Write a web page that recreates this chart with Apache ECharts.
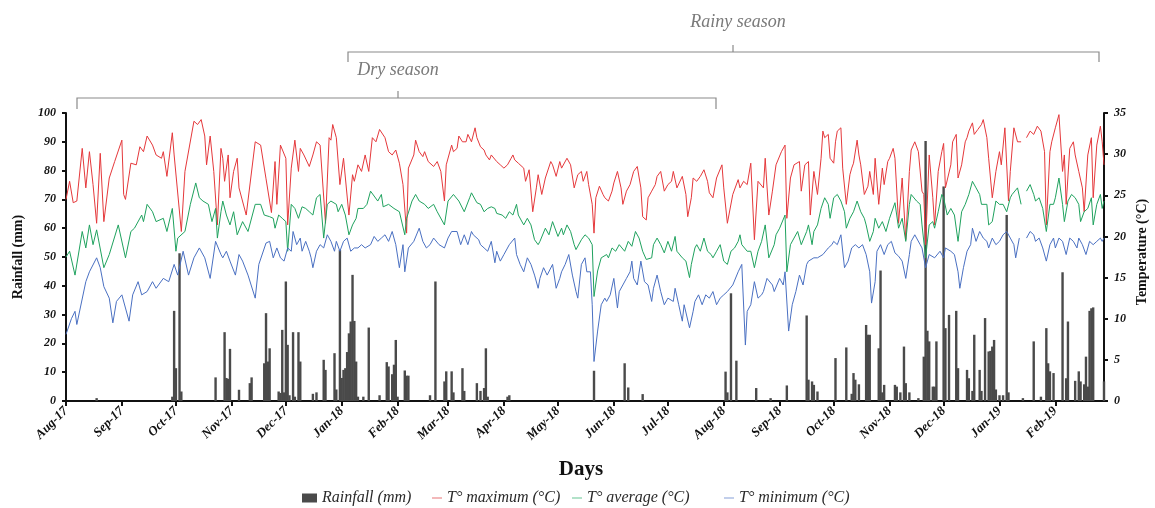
<!DOCTYPE html>
<html>
<head>
<meta charset="utf-8">
<script src="https://cdn.jsdelivr.net/npm/echarts@6/dist/echarts.min.js"></script>
<style>
  html, body { margin: 0; padding: 0; background: #fff; }
  #chart { width: 1155px; height: 508px; }
</style>
</head>
<body>
<div id="chart"></div>
<script>
// Daily record, 1 Aug 2017 – 28 Feb 2019. Values are [day index from 1 Aug 2017, value].
const FIRST_DAY = '2017-08-01';
const LAST_DAY = '2019-02-28';
const MONTH_NAMES = ['Jan','Feb','Mar','Apr','May','Jun','Jul','Aug','Sep','Oct','Nov','Dec'];

// Daily rainfall (mm)
const rainfall = [
  [17,1],[59,1.5],[60,31.3],[61,11.4],[63,51.3],[64,3.3],[83,8.2],[88,23.9],[89,8],[90,7.7],[91,18.1],
  [96,3.9],[102,6.2],[103,8.2],[110,13.1],[111,30.5],[112,13.7],[113,18.3],[118,3.3],[119,2.8],[120,24.7],
  [121,3],[122,41.5],[123,19.5],[124,2],[126,23.9],[127,1.5],[129,23.9],[130,13.7],[137,2.5],[139,3],
  [143,14.3],[144,10.8],[149,16.6],[150,4],[152,52.5],[153,8],[154,10.8],[155,11.4],[156,17],[157,23.5],
  [158,27.6],[159,43.8],[160,27.8],[161,13.7],[162,1.5],[165,1.5],[168,25.5],[174,2],[178,13.5],[179,12],
  [181,9.3],[182,12.6],[183,21.2],[184,1.5],[188,10.6],[189,8.8],[190,8.8],[202,2],[205,41.5],[210,6.8],
  [211,10.3],[214,10.3],[215,3],[220,11.4],[221,3.5],[228,6.2],[230,3.5],[232,4.5],[233,18.3],[234,1.5],
  [245,1.5],[246,2],[293,10.5],[310,13.1],[312,4.7],[320,2.4],[366,10.2],[367,3],[369,37.4],[372,14],
  [383,4.5],[391,1],[400,5.4],[411,29.7],[412,7.4],[414,6.8],[415,5.6],[417,3.3],[427,14.9],[433,18.6],
  [436,2.5],[437,9.7],[438,7.4],[440,5.8],[444,26.4],[445,23],[446,23],[451,18.3],[452,45.3],[453,3],
  [454,5.6],[460,5.6],[461,5],[463,3],[465,18.9],[466,6.2],[468,3],[473,1],[476,15.4],[477,90.3],
  [478,24.4],[479,20.7],[481,5],[482,5],[483,20.7],[487,74.5],[488,25.3],[490,29.9],[494,31.3],[495,11.4],
  [500,10.8],[501,7.9],[503,3.5],[504,23],[507,10.8],[508,3.5],[510,28.8],[512,17.2],[513,17.4],[514,18.9],
  [515,21.2],[516,4],[518,2],[520,2],[522,64.6],[523,3],[531,1],[537,20.7],[541,1.5],[544,25.3],[545,13.1],
  [546,10.3],[548,9.7],[553,44.7],[555,7.9],[556,27.6],[560,7],[562,10.3],[563,6.8],[565,5.8],[566,15.4],
  [567,5],[568,31.3],[569,32.2],[570,32.5],[576,6.8]
];

// Daily maximum temperature (°C)
const tMax = [
  [0,24.5],[2,26.7],[4,24.1],[6,24.3],[9,30.7],[11,25.9],[13,30.3],[15,26.3],[16,26.5],[17,21.6],[19,30.1],
  [21,21.8],[24,27.1],[27,29.1],[31,31.7],[32,25.1],[33,24.5],[36,28.9],[39,28.7],[41,30.9],[43,30.3],
  [45,32.2],[48,31.1],[50,29.9],[53,29.5],[54,30.3],[56,27.3],[59,32.6],[60,29.9],[64,20.6],[66,27.9],
  [71,34.0],[73,33.6],[75,34.2],[77,32.2],[78,28.7],[80,32.2],[82,27.9],[84,21.4],[86,30.7],[87,29.5],
  [88,26.7],[90,29.9],[91,24.7],[93,27.9],[95,29.5],[96,25.9],[100,22.6],[105,31.5],[108,31.1],[111,27.0],
  [114,22.9],[116,29.1],[117,23.9],[119,31.1],[122,29.5],[123,21.4],[125,28.3],[127,31.7],[129,27.9],
  [130,30.7],[132,29.9],[135,28.5],[137,29.9],[139,31.5],[141,31.1],[142,31.3],[144,21.6],[146,32.0],
  [147,31.7],[148,33.6],[150,32.0],[152,26.3],[154,29.5],[155,29.5],[157,22.6],[159,27.5],[160,26.7],
  [162,28.7],[164,27.9],[166,29.9],[168,27.9],[170,32.0],[172,31.5],[174,33.0],[177,32.0],[179,30.3],
  [181,29.9],[183,30.5],[185,28.9],[186,29.1],[187,26.3],[189,20.4],[190,28.3],[193,29.9],[194,31.7],
  [196,30.3],[198,29.7],[199,30.3],[201,29.1],[204,28.5],[206,29.1],[208,27.9],[210,24.3],[211,28.7],
  [214,31.1],[215,30.3],[217,30.7],[218,32.2],[220,31.5],[222,31.5],[223,32.4],[225,31.5],[227,33.2],
  [228,32.0],[230,30.9],[232,30.5],[233,29.9],[235,29.3],[236,29.9],[237,30.1],[239,29.1],[241,28.7],
  [243,28.3],[245,28.7],[247,29.5],[248,29.9],[249,29.3],[251,28.9],[254,28.3],[255,26.7],[257,28.1],
  [259,23.0],[261,25.9],[262,27.5],[264,25.1],[266,27.1],[269,29.1],[270,28.7],[272,27.3],[274,29.1],
  [275,28.3],[278,29.5],[280,28.7],[282,25.9],[284,27.5],[286,27.9],[287,26.7],[289,27.9],[290,26.3],
  [292,23.9],[293,20.4],[294,24.7],[296,26.1],[298,25.1],[299,24.7],[301,24.3],[303,25.5],[304,26.5],
  [306,27.9],[308,25.9],[309,23.9],[311,25.5],[313,26.3],[315,27.9],[317,28.5],[319,25.9],[320,22.4],
  [322,22.0],[323,24.7],[325,25.5],[327,26.3],[328,27.3],[330,27.9],[332,25.5],[334,26.3],[336,26.7],
  [337,27.9],[339,25.9],[342,27.3],[344,25.1],[345,22.4],[347,24.7],[348,27.1],[350,26.7],[352,27.3],
  [354,28.1],[356,26.7],[357,25.3],[359,24.7],[361,27.1],[362,27.3],[364,28.7],[365,25.9],[367,21.6],
  [370,25.1],[373,26.9],[374,25.9],[376,26.7],[378,26.3],[380,28.9],[382,19.6],[384,26.7],[387,25.9],
  [388,29.5],[390,22.6],[392,25.5],[394,28.7],[397,30.3],[399,31.1],[400,22.2],[402,27.1],[404,28.7],
  [407,29.1],[408,25.5],[410,28.7],[412,29.1],[413,22.6],[415,27.9],[417,25.1],[419,29.5],[420,32.8],
  [421,32.0],[423,32.4],[424,29.5],[426,28.9],[427,31.5],[428,32.8],[430,33.2],[431,28.3],[433,23.9],
  [435,27.5],[436,28.3],[437,28.9],[439,31.7],[440,29.9],[441,28.7],[443,25.1],[445,26.1],[446,27.9],
  [448,25.1],[449,29.5],[451,23.9],[453,28.3],[454,26.3],[456,29.1],[457,29.5],[459,30.7],[460,29.5],
  [462,21.6],[464,27.1],[466,19.6],[468,27.9],[469,30.5],[471,31.5],[473,30.3],[475,25.5],[476,25.1],
  [477,19.0],[479,29.9],[481,24.7],[482,21.4],[484,27.9],[486,30.3],[487,31.3],[488,25.9],[491,28.7],
  [492,31.5],[494,32.4],[495,27.1],[497,28.7],[499,31.5],[500,32.0],[501,32.8],[503,33.8],[504,32.4],
  [506,33.0],[508,33.6],[509,34.2],[511,32.0],[512,29.5],[514,24.7],[516,27.9],[518,30.3],[519,28.7],
  [521,33.2],[523,24.3],[524,27.9],[526,33.2],[528,31.5],[530,31.5],[531,null],[533,32.0],[535,32.8],
  [537,32.4],[539,33.4],[541,32.8],[543,30.3],[544,21.4],[546,30.3],[547,31.5],[549,33.2],[551,34.8],
  [553,27.9],[554,29.9],[555,23.9],[557,30.7],[559,31.5],[560,29.9],[562,27.9],[564,25.9],[565,23.0],
  [567,29.9],[569,32.0],[570,24.7],[572,31.1],[574,33.4],[575,31.5],[576,28.7]
];

// Daily mean temperature (°C)
const tAvg = [
  [0,17.5],[2,18.2],[5,15.3],[9,20.6],[11,18.6],[13,21.4],[15,19.0],[17,20.8],[21,16.2],[24,17.8],[29,21.4],
  [33,17.4],[36,20.6],[38,21.0],[42,22.6],[43,21.8],[45,23.9],[48,23.0],[50,21.8],[54,22.2],[56,20.6],
  [59,23.4],[61,18.2],[62,19.8],[66,20.6],[69,23.9],[72,26.5],[74,24.7],[76,24.3],[79,23.9],[81,21.8],
  [83,23.4],[84,19.8],[86,23.0],[87,24.3],[89,22.6],[91,21.4],[93,23.0],[95,20.2],[98,21.8],[101,20.6],
  [105,23.9],[108,23.9],[110,22.6],[113,22.4],[115,22.2],[116,21.0],[118,22.6],[120,22.2],[122,21.8],
  [123,18.2],[125,23.9],[127,23.4],[129,22.2],[131,23.6],[133,23.4],[135,23.0],[137,22.6],[139,24.7],
  [141,25.1],[143,19.8],[145,23.9],[147,24.3],[150,23.9],[151,23.0],[153,23.9],[155,22.6],[157,20.2],
  [159,21.4],[161,22.2],[162,23.4],[165,23.4],[167,23.9],[169,25.5],[170,25.5],[173,24.3],[175,25.1],
  [176,23.6],[179,23.9],[182,23.4],[185,23.0],[186,23.0],[188,20.2],[189,22.2],[192,24.3],[194,25.1],
  [196,24.3],[199,23.9],[201,23.4],[204,23.9],[206,23.0],[210,21.4],[212,24.3],[215,25.1],[218,24.3],
  [221,23.0],[224,24.7],[225,25.3],[228,24.1],[230,23.9],[232,23.0],[234,23.4],[236,23.6],[238,23.4],
  [239,22.8],[242,22.6],[244,22.2],[246,23.0],[248,22.6],[250,23.9],[251,22.6],[254,21.4],[256,22.2],
  [258,21.4],[260,19.6],[262,19.0],[263,19.4],[266,21.0],[268,20.2],[270,21.8],[273,20.0],[275,21.0],
  [276,20.2],[278,21.4],[280,20.6],[282,19.0],[283,18.4],[286,19.6],[288,20.2],[290,19.8],[292,19.0],
  [293,12.7],[295,15.8],[297,17.4],[300,17.8],[301,17.4],[303,18.6],[305,18.2],[307,19.0],[310,18.2],
  [312,19.4],[314,18.8],[316,20.6],[318,19.8],[320,18.2],[322,17.2],[325,17.4],[326,19.0],[328,19.8],
  [330,19.0],[332,18.0],[334,19.4],[336,18.2],[338,20.0],[339,18.2],[342,17.4],[344,17.0],[346,15.0],
  [347,16.6],[349,18.6],[350,19.0],[352,18.2],[354,19.8],[356,18.2],[358,17.8],[359,17.4],[361,18.2],
  [363,19.0],[365,17.0],[367,16.6],[369,18.2],[371,18.6],[373,19.4],[374,20.2],[375,19.0],[378,18.2],
  [380,18.2],[382,16.2],[384,18.2],[386,19.4],[388,21.4],[390,17.4],[393,19.0],[394,20.2],[396,21.0],
  [399,22.6],[400,15.7],[402,19.0],[404,19.8],[406,20.6],[408,19.0],[411,20.6],[412,21.4],[414,19.0],
  [415,20.6],[417,21.4],[419,23.4],[421,24.7],[423,23.9],[424,22.2],[426,24.7],[428,25.1],[430,24.3],
  [432,23.0],[433,21.0],[435,22.2],[437,23.0],[439,24.3],[441,23.0],[443,22.2],[444,21.4],[446,19.4],
  [448,20.6],[449,22.2],[451,21.0],[453,21.8],[455,20.6],[457,22.2],[460,24.1],[462,21.0],[464,22.2],
  [466,19.4],[468,23.9],[469,25.1],[472,24.3],[474,23.9],[475,21.4],[477,17.4],[479,21.4],[481,21.8],
  [482,21.0],[484,23.0],[486,25.1],[487,24.7],[489,22.6],[491,23.4],[493,22.6],[495,19.4],[497,23.0],
  [499,23.9],[501,25.1],[503,26.7],[505,25.9],[507,25.1],[508,23.9],[511,23.9],[512,21.4],[514,21.8],
  [516,24.3],[518,23.9],[520,23.9],[522,23.0],[524,24.7],[525,25.1],[528,25.9],[530,23.9],[531,null],
  [533,25.5],[535,26.3],[537,25.1],[538,24.3],[540,24.7],[542,23.4],[544,20.6],[546,23.9],[548,23.9],
  [549,24.7],[551,27.1],[553,23.9],[554,21.8],[556,24.3],[558,25.1],[560,24.7],[562,23.9],[563,21.8],
  [565,23.0],[567,23.4],[569,24.7],[570,21.4],[572,23.9],[574,25.1],[575,23.4],[576,24.3]
];

// Daily minimum temperature (°C)
const tMin = [
  [0,8.1],[3,10.0],[5,10.9],[6,9.3],[11,14.5],[13,15.7],[17,17.4],[19,16.2],[21,13.9],[24,12.5],[26,9.5],
  [28,12.1],[31,12.9],[35,9.7],[37,12.9],[40,14.5],[42,12.9],[45,13.3],[48,14.5],[50,13.7],[54,14.9],
  [57,14.5],[60,16.6],[62,15.3],[65,18.2],[68,15.3],[71,17.4],[74,18.6],[77,17.4],[80,14.9],[83,19.4],
  [86,17.8],[87,17.4],[89,18.2],[91,17.0],[94,15.3],[96,17.8],[98,17.0],[101,15.3],[105,12.5],[107,16.6],
  [111,19.2],[113,19.4],[115,17.4],[117,18.6],[119,17.4],[121,17.0],[123,18.6],[125,18.2],[126,20.6],
  [128,19.0],[130,19.8],[131,18.2],[133,19.4],[135,18.2],[136,17.4],[137,16.2],[139,18.2],[141,19.0],
  [143,18.6],[145,20.2],[147,19.4],[149,18.2],[150,19.4],[152,18.2],[154,19.4],[156,19.8],[158,18.2],
  [160,18.6],[162,18.6],[164,19.0],[166,18.6],[169,19.0],[171,20.0],[173,19.4],[175,19.8],[177,20.2],
  [179,19.4],[181,20.6],[183,19.0],[185,16.2],[187,19.0],[188,15.7],[190,18.6],[193,19.4],[196,21.0],
  [198,19.4],[200,18.6],[202,19.0],[204,19.8],[207,19.0],[210,18.6],[212,19.8],[214,20.6],[217,20.6],
  [219,19.0],[221,20.2],[223,19.0],[225,20.6],[226,20.2],[229,19.6],[230,19.0],[232,18.6],[234,18.2],
  [236,19.4],[238,16.8],[239,18.2],[241,17.0],[243,17.8],[246,19.0],[249,19.8],[250,17.8],[252,16.6],
  [254,15.7],[256,17.4],[258,16.6],[260,15.3],[262,13.7],[263,14.9],[265,16.2],[267,15.3],[270,16.6],
  [272,13.7],[274,14.9],[275,15.7],[277,16.6],[279,17.8],[281,15.3],[283,13.3],[284,12.5],[286,16.6],
  [288,17.4],[289,15.7],[291,15.7],[292,11.7],[293,4.8],[295,8.5],[297,11.7],[299,12.5],[300,12.1],
  [302,12.9],[304,14.9],[306,11.3],[307,13.3],[309,14.1],[311,14.9],[313,15.7],[314,17.0],[315,14.9],
  [317,14.1],[319,17.0],[321,14.5],[323,14.1],[325,12.1],[326,13.7],[328,15.3],[330,13.3],[332,11.7],
  [334,12.5],[337,12.1],[338,13.7],[340,11.7],[342,9.7],[343,11.7],[346,8.9],[348,10.9],[349,12.1],
  [351,12.9],[353,11.7],[355,12.9],[357,12.5],[359,13.3],[361,11.7],[363,12.5],[365,12.9],[367,13.3],
  [370,14.1],[373,15.7],[375,16.6],[377,6.8],[378,10.9],[380,11.7],[382,14.5],[384,12.5],[386,12.9],
  [387,13.3],[389,14.9],[392,14.1],[393,13.3],[396,14.9],[398,14.1],[399,15.7],[401,8.5],[403,11.7],
  [405,13.3],[407,15.3],[409,14.1],[411,16.6],[412,17.0],[415,17.4],[417,17.4],[420,17.8],[423,18.6],
  [425,19.0],[426,19.4],[428,19.0],[430,20.2],[432,16.2],[434,17.0],[436,18.6],[438,19.0],[440,18.6],
  [442,19.0],[444,17.8],[446,15.7],[447,11.9],[449,14.5],[450,18.2],[452,19.0],[454,17.8],[456,19.0],
  [458,19.4],[460,18.0],[462,17.6],[464,17.0],[466,14.9],[468,17.8],[469,19.4],[471,20.2],[474,19.0],
  [475,18.6],[477,16.2],[479,17.8],[482,17.4],[485,18.2],[487,17.4],[488,18.6],[491,18.2],[493,17.8],
  [495,15.7],[496,13.7],[498,16.2],[500,18.2],[502,19.0],[503,21.0],[505,19.4],[507,20.6],[509,19.8],
  [511,19.4],[512,18.6],[514,19.8],[516,19.0],[518,19.4],[520,20.2],[522,20.6],[524,19.8],[526,19.0],
  [527,17.4],[529,19.8],[531,null],[533,19.8],[535,20.6],[537,20.2],[538,19.4],[540,19.8],[542,18.6],
  [544,17.0],[546,19.0],[548,19.8],[549,18.6],[551,19.8],[553,19.4],[555,17.8],[557,19.8],[559,19.4],
  [561,18.6],[562,19.8],[564,19.0],[566,17.8],[568,19.4],[570,19.0],[572,19.4],[574,19.8],[575,19.4],
  [576,19.8]
];

// Calendar days along the x axis
const days = [];
for (let t = Date.parse(FIRST_DAY); t <= Date.parse(LAST_DAY); t += 86400000) {
  days.push(new Date(t).toISOString().slice(0, 10));
}
const isMonthStart = (i, v) => v.slice(8) === '01';
const monthLabel = v => MONTH_NAMES[+v.slice(5, 7) - 1] + '-' + v.slice(2, 4);

const SERIF = "'Liberation Serif', 'Times New Roman', serif";
const tickFont = { fontFamily: SERIF, fontStyle: 'italic', fontWeight: 'bold', color: '#111' };
const blackAxis = { show: true, lineStyle: { color: '#111', width: 2 } };
const legendText = { fontFamily: SERIF, fontStyle: 'italic', fontSize: 16, color: '#2a2a2a' };

const COLORS = { max: '#e5383b', avg: '#1fa25e', min: '#4a70c2', rain: '#4a4a4a' };

// one legend entry per component so each key can carry its own swatch shape
function legendEntry(name, left, icon, w, h, color) {
  return {
    top: 488, left: left, itemWidth: w, itemHeight: h, padding: 2,
    textStyle: legendText, itemStyle: { color: color, borderWidth: 0 },
    selectedMode: false,
    data: [{ name: name, icon: icon }]
  };
}

const chart = echarts.init(document.getElementById('chart'));
chart.setOption({
  animation: false,
  backgroundColor: '#fff',
  grid: { left: 66, right: 51, top: 113, bottom: 107 },
  legend: [
    legendEntry('Rainfall (mm)', 300, 'rect', 15, 9, COLORS.rain),
    legendEntry('T° maximum (°C)', 430, 'rect', 10, 1.2, '#ec8a8d'),
    legendEntry('T° average (°C)', 570, 'rect', 10, 1.2, '#7fcfa5'),
    legendEntry('T° minimum (°C)', 722, 'rect', 10, 1.2, '#9ab0de')
  ],
  xAxis: {
    type: 'category', data: days, boundaryGap: false,
    axisLine: blackAxis,
    axisTick: { show: true, interval: isMonthStart, length: 5, lineStyle: { color: '#111', width: 2 } },
    axisLabel: Object.assign({ interval: isMonthStart, rotate: 45, fontSize: 13, margin: 8,
      formatter: monthLabel }, tickFont),
    splitLine: { show: false }
  },
  yAxis: [
    { type: 'value', min: 0, max: 100, interval: 10, position: 'left',
      axisLine: blackAxis,
      axisTick: { show: true, length: 4, lineStyle: { color: '#111', width: 2 } },
      axisLabel: Object.assign({ fontSize: 12, margin: 10 }, tickFont),
      splitLine: { show: false } },
    { type: 'value', min: 0, max: 35, interval: 5, position: 'right',
      axisLine: blackAxis,
      axisTick: { show: true, length: 4, lineStyle: { color: '#111', width: 2 } },
      axisLabel: Object.assign({ fontSize: 12, margin: 10 }, tickFont),
      splitLine: { show: false } }
  ],
  series: [
    { name: 'Rainfall (mm)', type: 'bar', yAxisIndex: 0, data: rainfall,
      barWidth: 2.4, itemStyle: { color: COLORS.rain }, z: 1 },
    { name: 'T° maximum (°C)', type: 'line', yAxisIndex: 1, data: tMax,
      symbol: 'none', lineStyle: { width: 1, color: COLORS.max }, itemStyle: { color: COLORS.max }, z: 3 },
    { name: 'T° average (°C)', type: 'line', yAxisIndex: 1, data: tAvg,
      symbol: 'none', lineStyle: { width: 1, color: COLORS.avg }, itemStyle: { color: COLORS.avg }, z: 3 },
    { name: 'T° minimum (°C)', type: 'line', yAxisIndex: 1, data: tMin,
      symbol: 'none', lineStyle: { width: 1, color: COLORS.min }, itemStyle: { color: COLORS.min }, z: 3 }
  ],
  graphic: [
    // axis titles
    { type: 'text', x: 18, y: 257, rotation: Math.PI / 2,
      style: { text: 'Rainfall (mm)', fontFamily: SERIF, fontWeight: 'bold', fontSize: 14, fill: '#111',
        textAlign: 'center', textVerticalAlign: 'middle' } },
    { type: 'text', x: 1142, y: 252, rotation: Math.PI / 2,
      style: { text: 'Temperature (°C)', fontFamily: SERIF, fontWeight: 'bold', fontSize: 14, fill: '#111',
        textAlign: 'center', textVerticalAlign: 'middle' } },
    { type: 'text', x: 581, y: 470,
      style: { text: 'Days', fontFamily: SERIF, fontWeight: 'bold', fontSize: 21, fill: '#111',
        textAlign: 'center', textVerticalAlign: 'middle' } },
    // season brackets
    { type: 'polyline', shape: { points: [[77, 109], [77, 98], [716, 98], [716, 109]] },
      style: { stroke: '#8a8a8a', lineWidth: 1.2, fill: null } },
    { type: 'polyline', shape: { points: [[398, 98], [398, 91]] },
      style: { stroke: '#8a8a8a', lineWidth: 1.2 } },
    { type: 'text', x: 398, y: 70,
      style: { text: 'Dry season', fontFamily: SERIF, fontStyle: 'italic', fontSize: 18, fill: '#7a7a7a',
        textAlign: 'center', textVerticalAlign: 'middle' } },
    { type: 'polyline', shape: { points: [[348, 62], [348, 52], [1099, 52], [1099, 62]] },
      style: { stroke: '#8a8a8a', lineWidth: 1.2, fill: null } },
    { type: 'polyline', shape: { points: [[733, 52], [733, 45]] },
      style: { stroke: '#8a8a8a', lineWidth: 1.2 } },
    { type: 'text', x: 738, y: 22,
      style: { text: 'Rainy season', fontFamily: SERIF, fontStyle: 'italic', fontSize: 18, fill: '#7a7a7a',
        textAlign: 'center', textVerticalAlign: 'middle' } }
  ]
});
</script>
</body>
</html>
